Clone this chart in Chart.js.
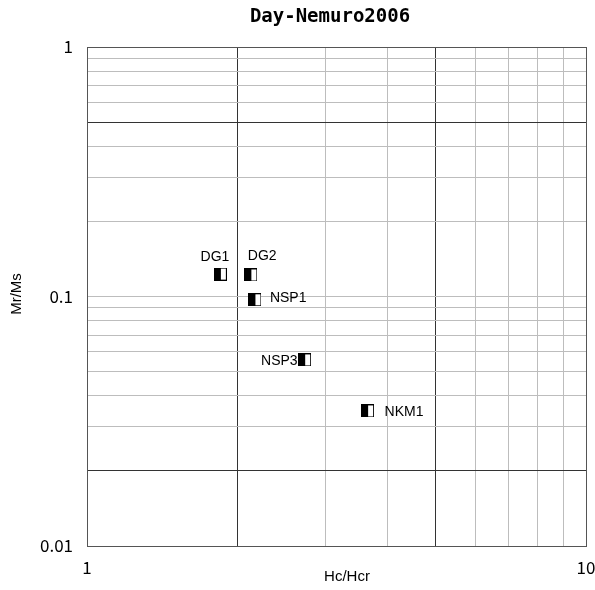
<!DOCTYPE html>
<html>
<head>
<meta charset="utf-8">
<script src="https://cdn.jsdelivr.net/npm/chart.js@4"></script>
<style>
  body { margin: 0; background: #fff; }
</style>
</head>
<body>
<canvas id="myChart" width="595" height="590"></canvas>
<script>
//static data
const sampleNames = ['DG1', 'DG2', 'NSP1', 'NSP3', 'NKM1'];
const hcHcr = [1.85, 2.13, 2.17, 2.73, 3.65];
const mrMs = [0.123, 0.122, 0.097, 0.0557, 0.0348];

//grid / tick values
const xTicks = [1, 2, 3, 4, 5, 6, 7, 8, 9, 10];
const yTicks = [0.01, 0.02, 0.03, 0.04, 0.05, 0.06, 0.07, 0.08, 0.09,
                0.1, 0.2, 0.3, 0.4, 0.5, 0.6, 0.7, 0.8, 0.9, 1];
const xLabeled = [1, 10];
const yLabeled = [0.01, 0.1, 1];
const xDark = [2, 5];
const yDark = [0.02, 0.5];

//where each sample name sits next to its marker
const labelPlace = [
    {dx: 9, dy: -13, align: 'right', base: 'alphabetic'},
    {dx: -3, dy: -15, align: 'left', base: 'alphabetic'},
    {dx: 15, dy: -2, align: 'left', base: 'middle'},
    {dx: -7, dy: 1, align: 'right', base: 'middle'},
    {dx: 17, dy: 1, align: 'left', base: 'middle'}
];

//half black / half white square marker
function makeMarker() {
    const c = document.createElement('canvas');
    c.width = 13;
    c.height = 13;
    const g = c.getContext('2d');
    g.fillStyle = '#fff';
    g.fillRect(0, 0, 13, 13);
    g.fillStyle = '#000';
    g.fillRect(0, 0, 7, 13);
    g.strokeStyle = '#000';
    g.lineWidth = 1;
    g.strokeRect(0.5, 0.5, 12, 12);
    return c;
}

function gridColor(dark, lo, hi) {
    return function (ctx) {
        const v = ctx.tick.value;
        if (v === lo || v === hi) return '#555';
        return dark.includes(v) ? '#333' : '#bdbdbd';
    };
}

const tickFont = {family: '"Noto Sans CJK JP", "DejaVu Sans"', size: 17};

const textPlugin = {
    id: 'texts',
    afterDraw(chart) {
        const ctx = chart.ctx;
        ctx.save();
        ctx.fillStyle = '#000';
        ctx.textAlign = 'center';
        ctx.textBaseline = 'middle';
        ctx.font = 'bold 19px "DejaVu Sans Mono"';
        ctx.fillText('Day-Nemuro2006', 330, 17);
        ctx.font = '15px "Liberation Sans"';
        ctx.fillText('Hc/Hcr', 347, 577);
        ctx.translate(17, 294);
        ctx.rotate(-Math.PI / 2);
        ctx.fillText('Mr/Ms', 0, 0);
        ctx.restore();
    },
    afterDatasetsDraw(chart) {
        const ctx = chart.ctx;
        const pts = chart.getDatasetMeta(0).data;
        ctx.save();
        ctx.fillStyle = '#000';
        ctx.font = '14px "Liberation Sans"';
        for (let i = 0; i < pts.length; i++) {
            const p = labelPlace[i];
            ctx.textAlign = p.align;
            ctx.textBaseline = p.base;
            ctx.fillText(sampleNames[i], pts[i].x + p.dx, pts[i].y + p.dy);
        }
        ctx.restore();
    }
};

const ctx = document.getElementById('myChart').getContext('2d');
const myChart = new Chart(ctx, {
    type: 'scatter',
    data: {
        datasets: [{
            label: 'samples',
            data: hcHcr.map((x, i) => ({x: x, y: mrMs[i]})),
            pointStyle: makeMarker(),
            pointRadius: 7
        }]
    },
    options: {
        responsive: false,
        animation: false,
        layout: {padding: {left: 0, right: 9, top: 47, bottom: 0}},
        plugins: {
            legend: {display: false},
            tooltip: {enabled: false}
        },
        scales: {
            x: {
                type: 'logarithmic',
                min: 1,
                max: 10,
                afterBuildTicks: s => { s.ticks = xTicks.map(v => ({value: v})); },
                afterFit: s => { s.height = 44; s.paddingLeft = 0; s.paddingRight = 0; },
                grid: {color: gridColor(xDark, 1, 10), drawTicks: false},
                border: {color: '#555'},
                ticks: {
                    autoSkip: false,
                    maxRotation: 0,
                    padding: 11,
                    color: '#000',
                    font: tickFont,
                    callback: v => xLabeled.includes(v) ? String(v) : ''
                }
            },
            y: {
                type: 'logarithmic',
                min: 0.01,
                max: 1,
                afterBuildTicks: s => { s.ticks = yTicks.map(v => ({value: v})); },
                afterFit: s => { s.width = 87; s.paddingTop = 0; s.paddingBottom = 0; },
                grid: {color: gridColor(yDark, 0.01, 1), drawTicks: false},
                border: {color: '#555'},
                ticks: {
                    autoSkip: false,
                    padding: 14,
                    color: '#000',
                    font: tickFont,
                    callback: v => yLabeled.includes(v) ? String(v) : ''
                }
            }
        }
    },
    plugins: [textPlugin]
});
</script>
</body>
</html>
